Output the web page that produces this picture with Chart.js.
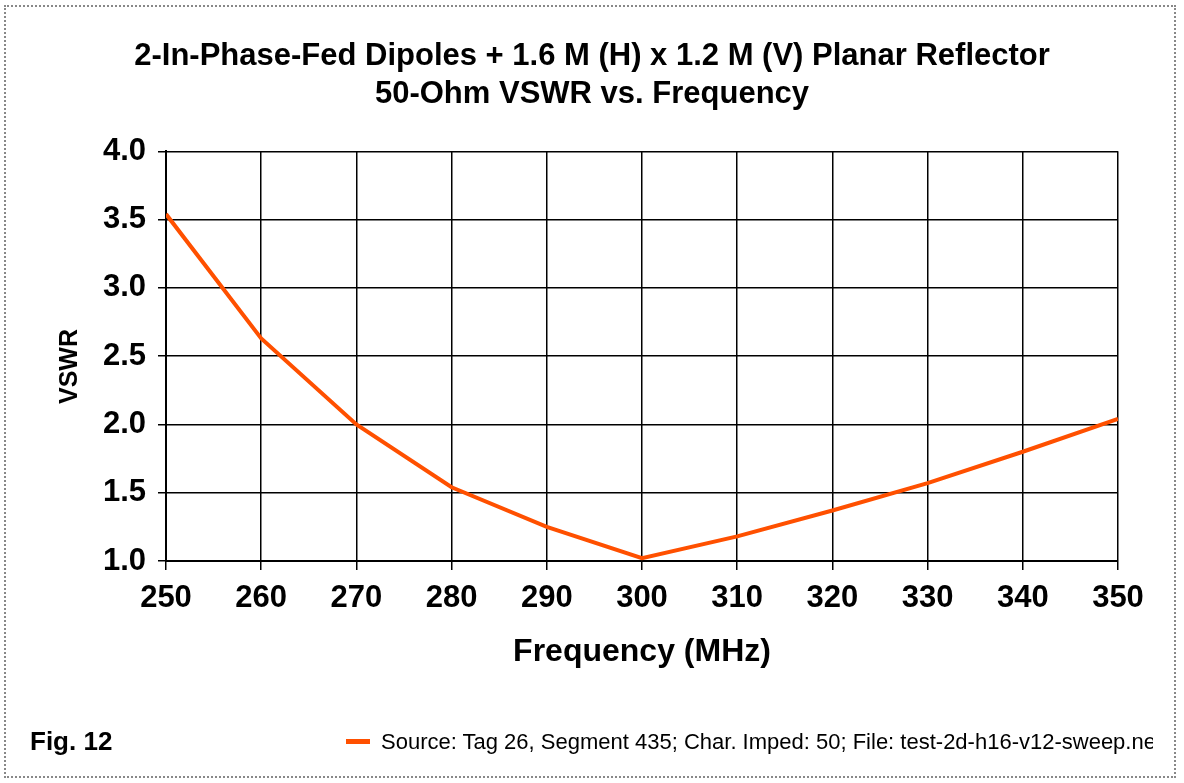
<!DOCTYPE html>
<html>
<head>
<meta charset="utf-8">
<script src="https://cdn.jsdelivr.net/npm/chart.js@4.4.0/dist/chart.umd.min.js"></script>
<style>
  body { margin: 0; background: #fff; }
  #wrap { position: relative; width: 1184px; height: 783px; overflow: hidden; font-family: "Liberation Sans", Arial, sans-serif; }
  #frame { position: absolute; left: 4px; top: 5px; width: 1172px; height: 773px; border: 2px dotted #888; box-sizing: border-box; }
  #myChart { position: absolute; left: 0; top: 0; }
  #fig { position: absolute; left: 30px; top: 727px; font-weight: bold; font-size: 26px; line-height: 28px; }
  #leg { position: absolute; left: 346px; top: 728px; width: 807px; height: 28px; overflow: hidden; white-space: nowrap; }
  #leg .swatch { position: absolute; left: 0; top: 11px; width: 24px; height: 5px; background: #ff5000; }
  #leg .txt { position: absolute; left: 35px; top: 0; font-size: 22px; line-height: 28px; color: #000; }
</style>
</head>
<body>
<div id="wrap">
  <canvas id="myChart" width="1184" height="783"></canvas>
  <div id="frame"></div>
  <div id="fig">Fig. 12</div>
  <div id="leg"><span class="swatch"></span><span class="txt">Source: Tag 26, Segment 435; Char. Imped: 50; File: test-2d-h16-v12-sweep.nec</span></div>
</div>
<script>
// Values
const freqs = [250, 260, 270, 280, 290, 300, 310, 320, 330, 340, 350];
const vswr = [3.54, 2.63, 2.00, 1.54, 1.25, 1.02, 1.18, 1.37, 1.57, 1.80, 2.04];
const titleLines = ["2-In-Phase-Fed Dipoles + 1.6 M (H) x 1.2 M (V) Planar Reflector", "50-Ohm VSWR vs. Frequency"];

const font = "'Liberation Sans', Arial, sans-serif";
const points = freqs.map((f, i) => ({ x: f, y: vswr[i] }));

var vswrChart = new Chart("myChart", {
	type: "line",
	data: {
		datasets: [{
			label: "Source: Tag 26, Segment 435; Char. Imped: 50; File: test-2d-h16-v12-sweep.nec",
			data: points,
			borderColor: "#ff5000",
			borderWidth: 4,
			pointRadius: 0,
			tension: 0
		}]
	},
	options: {
		responsive: false,
		animation: false,
		layout: { padding: { left: 33, right: 33, top: 0, bottom: 0 } },
		plugins: {
			legend: { display: false },
			tooltip: { enabled: false },
			title: {
				display: true,
				text: titleLines,
				color: "#000",
				font: { family: font, size: 31, weight: "bold", lineHeight: 1.23 },
				padding: { top: 37, bottom: 38 }
			}
		},
		scales: {
			x: {
				type: "linear",
				min: 250,
				max: 350,
				afterFit: (s) => { s.height = 222; },
				ticks: { stepSize: 10, color: "#000", padding: 10, font: { family: font, size: 31, weight: "bold" } },
				grid: { color: "#000", lineWidth: 1.5, tickLength: 9 },
				border: { color: "#000", width: 2 },
				title: {
					display: true,
					text: "Frequency (MHz)",
					color: "#000",
					font: { family: font, size: 32, weight: "bold", lineHeight: 1.2 },
					padding: { top: 0, bottom: 112 }
				}
			},
			y: {
				min: 1,
				max: 4,
				afterFit: (s) => { s.width = 133; },
				ticks: {
					stepSize: 0.5,
					color: "#000",
					padding: 12,
					font: { family: font, size: 31, weight: "bold" },
					callback: (v) => v.toFixed(1)
				},
				grid: { color: "#000", lineWidth: 1.5, tickLength: 8 },
				border: { color: "#000", width: 2 },
				title: {
					display: true,
					// trailing spaces nudge the label a bit below the axis centre, as in the original
					text: "VSWR\u00a0\u00a0\u00a0",
					color: "#000",
					font: { family: font, size: 25, weight: "bold", lineHeight: 1.2 },
					padding: { top: 22, bottom: 0 }
				}
			},
			y2: {
				position: "right",
				min: 1,
				max: 4,
				afterFit: (s) => { s.width = 33; },
				ticks: { display: false },
				grid: { display: false },
				border: { display: false }
			}
		}
	}
});
</script>
</body>
</html>
